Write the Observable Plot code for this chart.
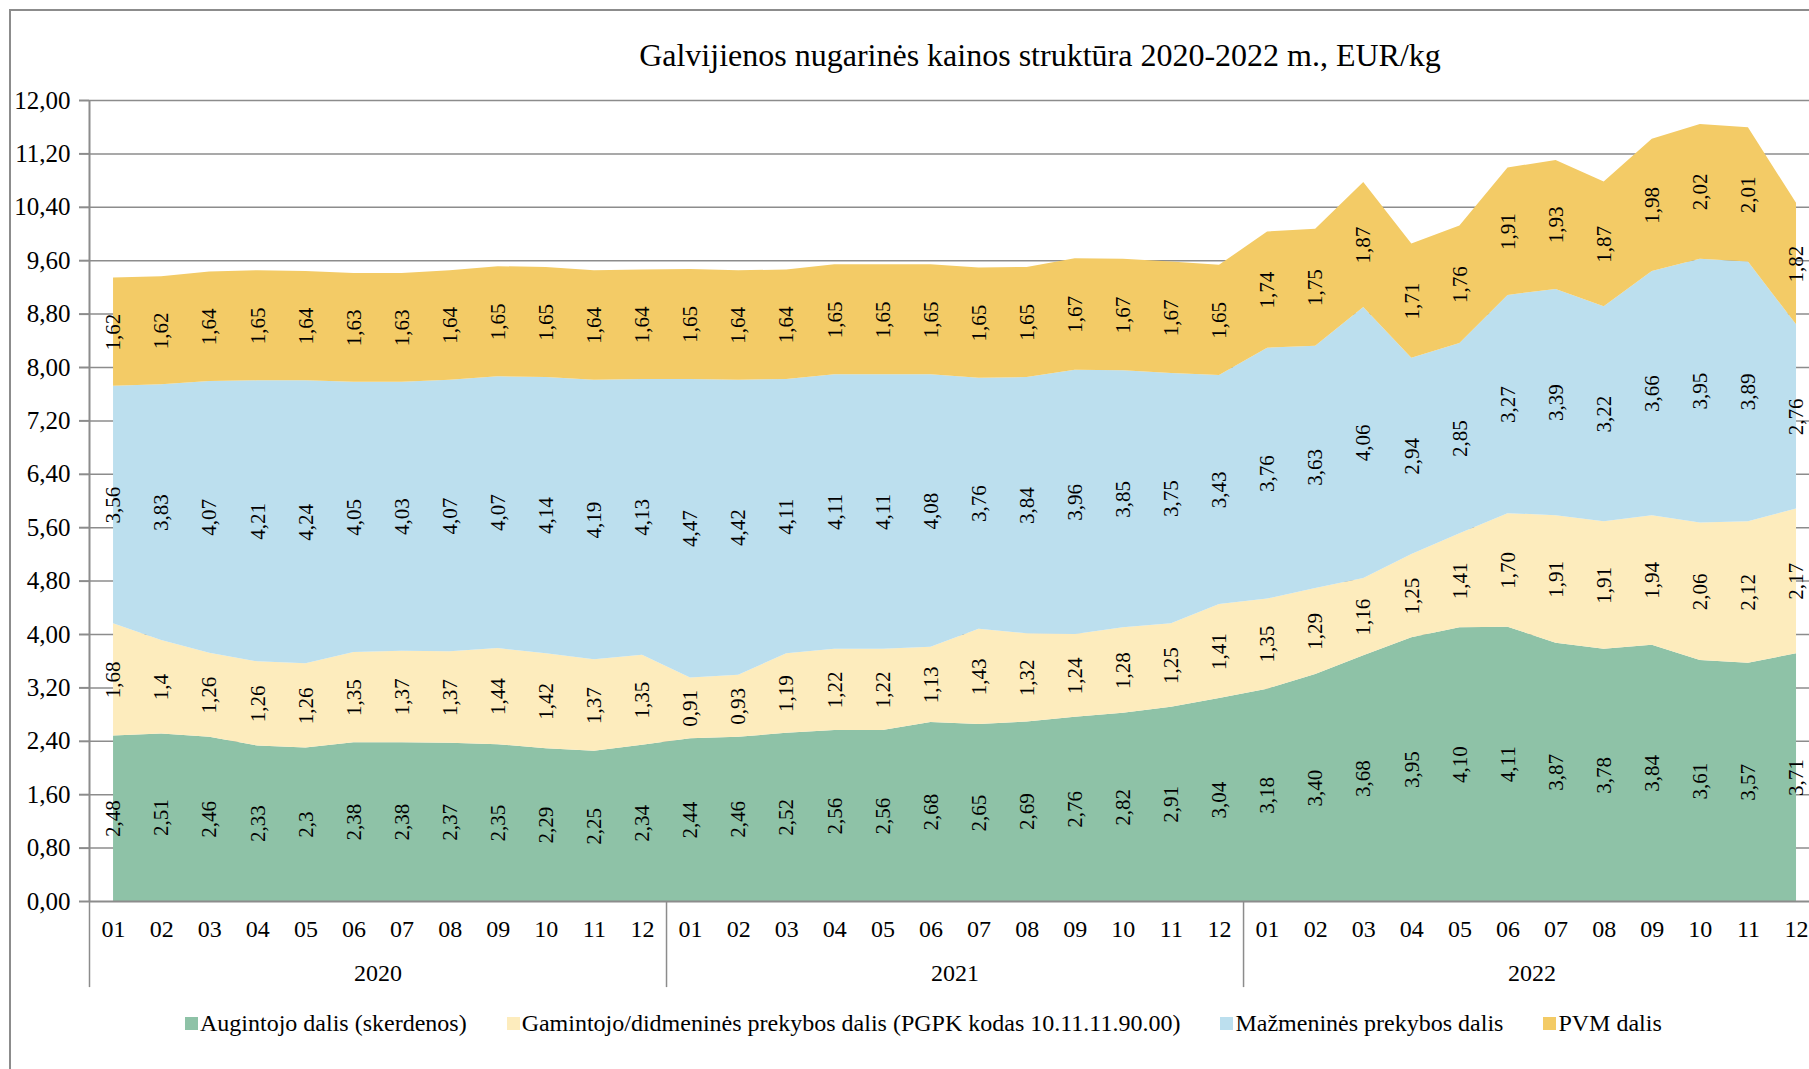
<!DOCTYPE html>
<html>
<head>
<meta charset="utf-8">
<script src="https://cdn.jsdelivr.net/npm/d3@7"></script>
<script src="https://cdn.jsdelivr.net/npm/@observablehq/plot@0.6"></script>
<style>
  html, body { margin: 0; padding: 0; background: #fff; }
  body { width: 1809px; height: 1069px; overflow: hidden; position: relative;
         font-family: "Liberation Serif", "Times New Roman", serif; color: #000; }
  #frame { position: absolute; left: 9px; top: 9px; width: 1830px; height: 1090px;
           border: 2px solid #8c8c8c; box-sizing: border-box; }
  #title { position: absolute; left: 1040px; top: 37px; transform: translateX(-50%);
           font-size: 32px; line-height: 37px; white-space: nowrap; }
  #chart { position: absolute; left: 0; top: 80px; }
  #legend { position: absolute; left: 185px; top: 1010px; display: flex; gap: 40px;
            font-size: 24px; white-space: nowrap; }
  #legend .item { display: flex; align-items: center; }
  #legend .sw { width: 13px; height: 13px; margin-right: 2px; }
</style>
</head>
<body>
<div id="frame"></div>
<div id="title"></div>
<div id="chart"></div>
<div id="legend"></div>
<script>
const titleText = "Galvijienos nugarinės kainos struktūra 2020-2022 m., EUR/kg";
const years = ["2020", "2021", "2022"];
const months = ["01","02","03","04","05","06","07","08","09","10","11","12"];
const seriesNames = [
  "Augintojo dalis (skerdenos)",
  "Gamintojo/didmeninės prekybos dalis (PGPK kodas 10.11.11.90.00)",
  "Mažmeninės prekybos dalis",
  "PVM dalis"
];
const seriesColors = ["#8ec2a7", "#fdecbd", "#bcdfee", "#f3cb66"];

const augintojo = [
  2.48, 2.51, 2.46, 2.33, 2.30, 2.38, 2.38, 2.37, 2.35, 2.29, 2.25, 2.34,
  2.44, 2.46, 2.52, 2.56, 2.56, 2.68, 2.65, 2.69, 2.76, 2.82, 2.91, 3.04,
  3.18, 3.40, 3.68, 3.95, 4.10, 4.11, 3.87, 3.78, 3.84, 3.61, 3.57, 3.71
];
const gamintojo = [
  1.68, 1.40, 1.26, 1.26, 1.26, 1.35, 1.37, 1.37, 1.44, 1.42, 1.37, 1.35,
  0.91, 0.93, 1.19, 1.22, 1.22, 1.13, 1.43, 1.32, 1.24, 1.28, 1.25, 1.41,
  1.35, 1.29, 1.16, 1.25, 1.41, 1.70, 1.91, 1.91, 1.94, 2.06, 2.12, 2.17
];
const mazmenines = [
  3.56, 3.83, 4.07, 4.21, 4.24, 4.05, 4.03, 4.07, 4.07, 4.14, 4.19, 4.13,
  4.47, 4.42, 4.11, 4.11, 4.11, 4.08, 3.76, 3.84, 3.96, 3.85, 3.75, 3.43,
  3.76, 3.63, 4.06, 2.94, 2.85, 3.27, 3.39, 3.22, 3.66, 3.95, 3.89, 2.76
];
const pvm = [
  1.62, 1.62, 1.64, 1.65, 1.64, 1.63, 1.63, 1.64, 1.65, 1.65, 1.64, 1.64,
  1.65, 1.64, 1.64, 1.65, 1.65, 1.65, 1.65, 1.65, 1.67, 1.67, 1.67, 1.65,
  1.74, 1.75, 1.87, 1.71, 1.76, 1.91, 1.93, 1.87, 1.98, 2.02, 2.01, 1.82
];
const yTicks = [0, 0.8, 1.6, 2.4, 3.2, 4.0, 4.8, 5.6, 6.4, 7.2, 8.0, 8.8, 9.6, 10.4, 11.2, 12.0];

const seriesValues = [augintojo, gamintojo, mazmenines, pvm];
const data = [];
seriesValues.forEach((vals, s) => {
  vals.forEach((v, i) => {
    data.push({ i, year: years[Math.floor(i / 12)], month: months[i % 12], series: seriesNames[s], value: v });
  });
});
const monthRows = d3.range(36).map(i => ({ i, label: months[i % 12] }));
const yearRows = years.map((y, k) => ({ i: k * 12 + 5.5, label: y }));

// 2020–2021 labels in the reference drop trailing zeros; 2022 labels keep two decimals
const fmtTrim = d3.format(".2~f"), fmtFixed = d3.format(".2f");
const labelOf = d => (d.year === "2022" ? fmtFixed(d.value) : fmtTrim(d.value)).replace(".", ",");

const grey = "#8c8c8c";
const font = "'Liberation Serif', 'Times New Roman', serif";

const chart = Plot.plot({
  width: 1809,
  height: 921,
  marginLeft: 89,
  marginRight: 0,
  marginTop: 20,
  marginBottom: 100,
  x: { domain: [-0.5, 35.27], axis: null },
  y: { domain: [0, 12], axis: null },
  color: { domain: seriesNames, range: seriesColors },
  style: { fontFamily: font, fontSize: "24px", color: "#000", background: "transparent", overflow: "visible" },
  marks: [
    Plot.gridY(yTicks.filter(t => t > 0), { stroke: grey, strokeOpacity: 1, strokeWidth: 1.5 }),
    Plot.areaY(data, { x: "i", y: "value", z: "series", fill: "series" }),
    Plot.text(data, Plot.stackY({
      x: "i", y: "value", z: "series", text: labelOf,
      rotate: -90, fontSize: 21, fill: "#000", textAnchor: "middle", lineAnchor: "middle"
    })),
    Plot.ruleY([0], { stroke: grey, strokeWidth: 2 }),
    Plot.ruleX([-0.5], { y1: 0, y2: 12, stroke: grey, strokeWidth: 2 }),
    Plot.axisY(yTicks, {
      label: null, tickSize: 10, tickPadding: 9, stroke: grey, strokeWidth: 2, fill: "#000", fontSize: 25,
      tickFormat: d => d3.format(".2f")(d).replace(".", ",")
    }),
    Plot.ruleX([-0.5, 11.5, 23.5], { y1: 0, y2: -1.29, stroke: grey, strokeWidth: 1.5 }),
    Plot.text(monthRows, { x: "i", text: "label", frameAnchor: "bottom", dy: 35, fontSize: 24, fill: "#000" }),
    Plot.text(yearRows, { x: "i", text: "label", frameAnchor: "bottom", dy: 79, fontSize: 24, fill: "#000" })
  ]
});
document.getElementById("chart").appendChild(chart);
document.getElementById("title").textContent = titleText;

const legend = document.getElementById("legend");
seriesNames.forEach((name, k) => {
  const item = document.createElement("div");
  item.className = "item";
  const sw = document.createElement("span");
  sw.className = "sw";
  sw.style.background = seriesColors[k];
  const label = document.createElement("span");
  label.textContent = name;
  item.appendChild(sw);
  item.appendChild(label);
  legend.appendChild(item);
});
</script>
</body>
</html>
